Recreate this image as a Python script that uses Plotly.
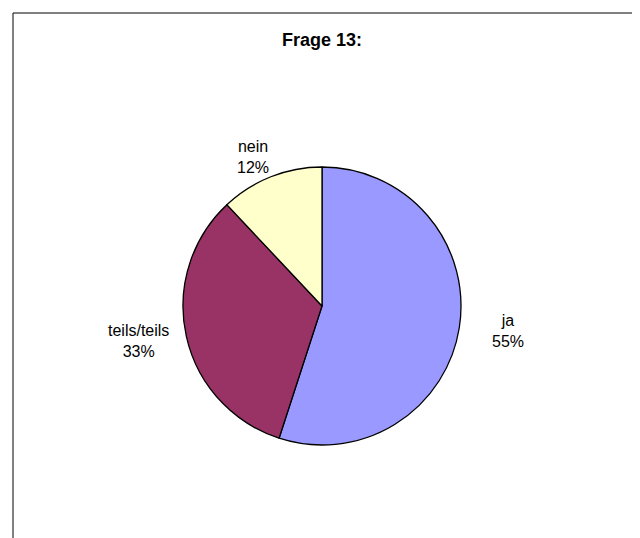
import math
import plotly.graph_objects as go

labels = ["ja", "teils/teils", "nein"]
values = [55, 33, 12]
colors = ["#9999FF", "#993366", "#FFFFCC"]
title_text = "Frage 13:"

W, H = 640, 538
OFF = 8  # page body margin offset
cx, cy, r = 322 - OFF, 306 - OFF, 139
label_rx, label_ry = 188, 160  # distance of the outside labels from the pie centre

FONT = "Liberation Sans, Arial, sans-serif"

fig = go.Figure(go.Pie(
    labels=labels,
    values=values,
    sort=False,
    direction="clockwise",
    rotation=0,
    marker=dict(colors=colors, line=dict(color="black", width=1.3)),
    textinfo="none",
    domain=dict(x=[(cx - r) / W, (cx + r) / W], y=[(H - cy - r) / H, (H - cy + r) / H]),
    showlegend=False,
    hoverinfo="label+percent",
))

# outside labels placed at each slice's mid-angle (clockwise from 12 o'clock)
total = sum(values)
annotations = []
cum = 0
for lab, val in zip(labels, values):
    mid = (cum + val / 2) / total * 2 * math.pi
    cum += val
    px = cx + label_rx * math.sin(mid)
    py = cy - label_ry * math.cos(mid)
    annotations.append(dict(
        x=px / W, y=1 - py / H, xref="paper", yref="paper",
        text=f"{lab}<br>{round(val / total * 100)}%",
        showarrow=False, xanchor="center", yanchor="middle", align="center",
        font=dict(family=FONT, size=16, color="black"),
    ))

fig.update_layout(
    width=W, height=H,
    margin=dict(l=0, r=0, t=0, b=0),
    paper_bgcolor="white",
    plot_bgcolor="white",
    title=dict(text="<b>" + title_text + "</b>", x=(322 - OFF) / W, xanchor="center",
               y=1 - (40 - OFF) / H, yanchor="middle",
               font=dict(family=FONT, size=18, color="black")),
    annotations=annotations,
    shapes=[dict(type="rect", xref="paper", yref="paper",
                 x0=(13 - OFF) / W, x1=(634 - OFF) / W, y0=-0.2, y1=1 - (13 - OFF) / H,
                 line=dict(color="black", width=1), fillcolor="rgba(0,0,0,0)", layer="below")],
)

fig.write_html("out.html")
